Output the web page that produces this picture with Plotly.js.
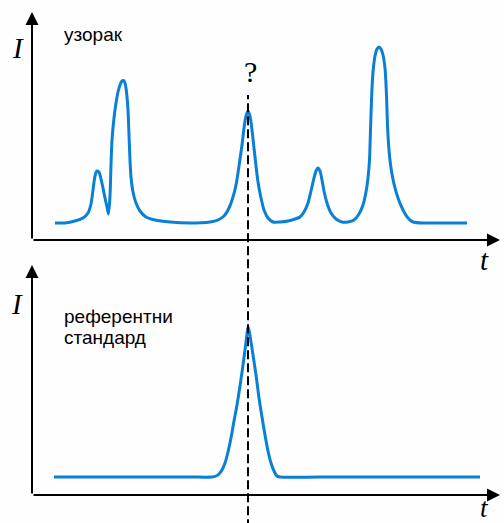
<!DOCTYPE html>
<html>
<head>
<meta charset="utf-8">
<script src="https://cdn.plot.ly/plotly-3.0.1.min.js"></script>
<style>html,body{margin:0;padding:0;background:#fff;}#chart{width:504px;height:523px;}</style>
</head>
<body>
<div id="chart"></div>
<script>
// Sample chromatogram (time t, intensity I, arbitrary units)
const sampleT = [23, 33, 43, 51, 56, 59, 61, 63, 65, 67, 69, 71, 73, 75, 76.5, 78, 79, 80, 82, 84, 86, 88, 90, 91.5, 93, 94.5, 96, 97, 98, 99, 101, 104, 108, 114, 123, 138, 158, 178, 186, 192, 197, 201, 204, 207, 210, 212, 214, 216, 218, 220, 222, 224, 226, 229, 232, 236, 241, 248, 256, 263, 268, 272, 276, 279, 282, 284, 286, 288, 290, 292, 295, 299, 304, 310, 316, 322, 327, 331, 334, 336, 337.5, 338.5, 339.5, 341, 343, 345, 347, 349, 351, 353, 354.5, 355.5, 357, 359, 362, 366, 371, 376, 381, 393, 413, 435];
const sampleI = [17, 17, 19, 22, 27, 36, 50, 64, 69, 68, 61, 52, 42, 33, 26, 44, 75, 100, 122, 137, 148, 155, 159, 159.5, 157, 148, 130, 105, 80, 63, 48, 37, 29, 23, 20, 18, 17, 18, 20, 24, 32, 43, 55, 74, 95, 112, 124, 129, 124, 110, 92, 74, 58, 42, 30, 22, 18, 18, 19, 21, 23, 28, 37, 49, 62, 69, 72, 69, 60, 49, 37, 27, 21, 18, 18, 20, 26, 35, 48, 62, 80, 110, 140, 168, 184, 191, 193, 191, 185, 172, 145, 115, 90, 72, 56, 42, 30, 22, 18, 17, 17, 17];
// Reference standard chromatogram
const refT = [22, 68, 118, 158, 180, 184, 187, 190, 193, 196, 199, 202, 205, 208, 211, 213, 215, 216, 217, 219, 221, 224, 227, 230, 233, 236, 239, 242, 245, 248, 288, 348, 398, 448];
const refI = [18, 18, 18, 18, 18, 19, 21, 25, 32, 43, 57, 74, 90, 109, 130, 145, 161, 168, 165, 153, 140, 120, 97, 78, 60, 44, 32, 24, 19, 18, 18, 18, 18, 18];
// Retention time of the unknown peak (dashed marker)
const markerT = [216];
const sampleLabel = 'узорак';
const referenceLabel = ['референтни', 'стандард'];
const questionLabel = '?';
const axisLabels = {intensity: 'I', time: 't'};

const blue = '#0a7fd6';
const sans = 'Liberation Sans, Arial, sans-serif';
const serif = 'Liberation Serif, Times New Roman, serif';

const traces = [
  {x: sampleT, y: sampleI, xaxis: 'x', yaxis: 'y', mode: 'lines',
   line: {color: blue, width: 3, shape: 'spline', smoothing: 0.7}, hoverinfo: 'skip'},
  {x: refT, y: refI, xaxis: 'x2', yaxis: 'y2', mode: 'lines',
   line: {color: blue, width: 3, shape: 'spline', smoothing: 0.7}, hoverinfo: 'skip'}
];

const H = 523, L = 32, W = 468;
const py = v => (H - v) / H;
const px = v => (v - L) / W;

const base = {showgrid: false, zeroline: false, showline: false, showticklabels: false, ticks: '', fixedrange: true};

function arrow(xr, yr, x, y, ax, ay) {
  return {xref: xr, yref: yr, axref: xr, ayref: yr, x: x, y: y, ax: ax, ay: ay, text: '',
          showarrow: true, arrowhead: 2, arrowsize: 1.3, arrowwidth: 2, arrowcolor: '#000', standoff: 0, startstandoff: 0};
}

const annotations = [
  arrow('x', 'y', 0, 228, 0, 0),
  arrow('x', 'y', 468, 0, 0, 0),
  arrow('x2', 'y2', 0, 230, 0, 0),
  arrow('x2', 'y2', 468, 0, 0, 0),
  {xref: 'paper', yref: 'paper', x: px(62), y: py(35), xanchor: 'left', yanchor: 'middle', showarrow: false,
   text: sampleLabel, font: {family: sans, size: 19, color: '#000'}},
  {xref: 'paper', yref: 'paper', x: px(62), y: py(316), xanchor: 'left', yanchor: 'middle', showarrow: false,
   text: referenceLabel[0], font: {family: sans, size: 19, color: '#000'}},
  {xref: 'paper', yref: 'paper', x: px(62), y: py(337), xanchor: 'left', yanchor: 'middle', showarrow: false,
   text: referenceLabel[1], font: {family: sans, size: 19, color: '#000'}},
  {xref: 'paper', yref: 'paper', x: px(18), y: py(48), xanchor: 'center', yanchor: 'middle', showarrow: false,
   text: '<i>' + axisLabels.intensity + '</i>', font: {family: serif, size: 29, color: '#000'}},
  {xref: 'paper', yref: 'paper', x: px(17), y: py(304), xanchor: 'center', yanchor: 'middle', showarrow: false,
   text: '<i>' + axisLabels.intensity + '</i>', font: {family: serif, size: 29, color: '#000'}},
  {xref: 'paper', yref: 'paper', x: px(484), y: py(260), xanchor: 'center', yanchor: 'middle', showarrow: false,
   text: '<i>' + axisLabels.time + '</i>', font: {family: serif, size: 29, color: '#000'}},
  {xref: 'paper', yref: 'paper', x: px(484), y: py(508), xanchor: 'center', yanchor: 'middle', showarrow: false,
   text: '<i>' + axisLabels.time + '</i>', font: {family: serif, size: 27, color: '#000'}},
  {xref: 'x', yref: 'paper', x: markerT[0] + 2, y: py(71), xanchor: 'center', yanchor: 'middle', showarrow: false,
   text: questionLabel, font: {family: serif, size: 30, color: '#000'}}
];

const layout = {
  width: 504, height: 523,
  margin: {l: L, r: 504 - L - W, t: 0, b: 0},
  paper_bgcolor: '#fefefe', plot_bgcolor: 'rgba(0,0,0,0)',
  showlegend: false,
  xaxis: Object.assign({}, base, {range: [0, 468], domain: [0, 1], anchor: 'y'}),
  yaxis: Object.assign({}, base, {range: [0, 228], domain: [py(240), py(12)], anchor: 'x'}),
  xaxis2: Object.assign({}, base, {range: [0, 468], domain: [0, 1], anchor: 'y2'}),
  yaxis2: Object.assign({}, base, {range: [0, 230], domain: [py(495), py(265)], anchor: 'x2'}),
  shapes: [
    {type: 'line', xref: 'x', yref: 'paper', x0: markerT[0], x1: markerT[0], y0: -0.01, y1: py(95),
     line: {color: '#000', width: 2, dash: '9px,4px'}, layer: 'above'}
  ],
  annotations: annotations
};

Plotly.newPlot('chart', traces, layout, {staticPlot: true, displayModeBar: false});
</script>
</body>
</html>
